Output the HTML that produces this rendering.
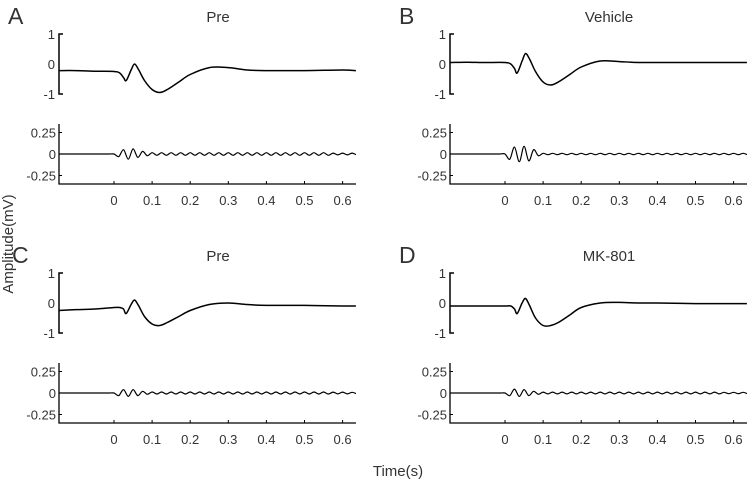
<!DOCTYPE html>
<html><head><meta charset="utf-8"><style>
body{margin:0;background:#fff}
svg{display:block;font-family:"Liberation Sans",Arial,sans-serif}
</style></head><body>
<svg id="fig" width="750" height="487" viewBox="0 0 750 487">
<text x="9" y="244" transform="rotate(-90 9 244)" text-anchor="middle" font-size="15" fill="#333" dominant-baseline="middle">Amplitude(mV)</text>
<text x="398" y="476" text-anchor="middle" font-size="15" fill="#333">Time(s)</text>
</svg>
<script>
const panelLetters=["A","B","C","D"];
const panelTitles=["Pre","Vehicle","Pre","MK-801"];
const topTimes=[-0.145,-0.1,-0.05,0,0.015,0.025,0.032,0.045,0.054,0.065,0.08,0.1,0.12,0.14,0.17,0.2,0.25,0.3,0.35,0.4,0.5,0.6,0.635];
const topA=[-0.22,-0.22,-0.24,-0.25,-0.3,-0.45,-0.55,-0.2,0,-0.2,-0.55,-0.85,-0.95,-0.85,-0.6,-0.35,-0.12,-0.12,-0.2,-0.22,-0.22,-0.2,-0.22];
const topB=[0.05,0.06,0.05,0.05,0,-0.15,-0.3,0.1,0.35,0.15,-0.25,-0.6,-0.7,-0.6,-0.35,-0.1,0.1,0.08,0.05,0.05,0.05,0.05,0.05];
const topC=[-0.25,-0.22,-0.2,-0.15,-0.15,-0.2,-0.35,-0.05,0.1,-0.1,-0.45,-0.7,-0.75,-0.65,-0.45,-0.25,-0.05,0,-0.05,-0.08,-0.08,-0.1,-0.1];
const topD=[-0.1,-0.1,-0.1,-0.1,-0.1,-0.2,-0.35,0,0.15,-0.1,-0.5,-0.75,-0.75,-0.65,-0.4,-0.15,0,0.02,0,0,-0.02,-0.02,-0.02];
const botStart=-0.15, botStep=0.0125;
const botA=[0,0,0,0,0,0,0,0,0,0,0,0,0,-0.03,0.05,-0.06,0.06,-0.04,0.03,-0.02,0.015,-0.015,0.015,-0.015,0.015,-0.015,0.015,-0.015,0.015,-0.015,0.015,-0.015,0.015,-0.015,0.015,-0.015,0.015,-0.015,0.015,-0.015,0.015,-0.015,0.015,-0.015,0.015,-0.015,0.015,-0.015,0.015,-0.015,0.015,-0.015,0.015,-0.015,0.015,-0.015,0.015,-0.015,0.01,-0.01,0.01,-0.01,0.01,-0.01,0];
const botB=[0,0,0,0,0,0,0,0,0,0,0,0,0,-0.06,0.08,-0.09,0.09,-0.08,0.05,-0.02,0.008,-0.008,0.008,-0.008,0.008,-0.008,0.008,-0.008,0.008,-0.008,0.008,-0.008,0.008,-0.008,0.008,-0.008,0.008,-0.008,0.008,-0.008,0.008,-0.008,0.008,-0.008,0.008,-0.008,0.008,-0.008,0.008,-0.008,0.008,-0.008,0.008,-0.008,0.008,-0.008,0.008,-0.008,0.008,-0.008,0.008,-0.008,0.008,-0.008,0];
const botC=[0,0,0,0,0,0,0,0,0,0,0,0,0,-0.03,0.04,-0.04,0.04,-0.03,0.02,-0.015,0.012,-0.012,0.012,-0.012,0.012,-0.012,0.012,-0.012,0.012,-0.012,0.012,-0.012,0.012,-0.012,0.012,-0.012,0.012,-0.012,0.012,-0.012,0.012,-0.012,0.012,-0.012,0.012,-0.012,0.012,-0.012,0.012,-0.012,0.012,-0.012,0.012,-0.012,0.012,-0.012,0.012,-0.012,0.01,-0.01,0.01,-0.01,0.008,-0.008,0];
const botD=[0,0,0,0,0,0,0,0,0,0,0,0,0,-0.03,0.045,-0.04,0.04,-0.03,0.02,-0.015,0.01,-0.01,0.01,-0.01,0.01,-0.01,0.01,-0.01,0.01,-0.01,0.01,-0.01,0.01,-0.01,0.01,-0.01,0.01,-0.01,0.01,-0.01,0.01,-0.01,0.01,-0.01,0.01,-0.01,0.01,-0.01,0.01,-0.01,0.01,-0.01,0.01,-0.01,0.01,-0.01,0.01,-0.01,0.008,-0.008,0.008,-0.008,0.008,-0.008,0];
const tops=[topA,topB,topC,topD];
const bots=[botA,botB,botC,botD];
const xTicks=[0,0.1,0.2,0.3,0.4,0.5,0.6];
const topYTicks=[1,0,-1];
const botYTicks=[0.25,0,-0.25];

const NS="http://www.w3.org/2000/svg";
const svg=document.getElementById("fig");
function mk(tag,attrs,parent){const e=document.createElementNS(NS,tag);for(const k in attrs)e.setAttribute(k,attrs[k]);(parent||svg).appendChild(e);return e;}
function smooth(pts){let d="M"+pts[0][0].toFixed(1)+","+pts[0][1].toFixed(1);
 for(let i=0;i<pts.length-1;i++){const p0=pts[Math.max(0,i-1)],p1=pts[i],p2=pts[i+1],p3=pts[Math.min(pts.length-1,i+2)];
  const c1=[p1[0]+(p2[0]-p0[0])/6,p1[1]+(p2[1]-p0[1])/6],c2=[p2[0]-(p3[0]-p1[0])/6,p2[1]-(p3[1]-p1[1])/6];
  d+=" C"+c1[0].toFixed(1)+","+c1[1].toFixed(1)+" "+c2[0].toFixed(1)+","+c2[1].toFixed(1)+" "+p2[0].toFixed(1)+","+p2[1].toFixed(1);}
 return d;}
const defs=mk("defs",{});
for(let p=0;p<4;p++){
 const ox=(p%2)*391, oy=Math.floor(p/2)*239;
 const g=mk("g",{});
 
 
 const xs=t=>ox+114+t*381;
 const x0=ox+59, x1=ox+356;
 const cp=mk("clipPath",{id:"clip"+p},defs);
 mk("rect",{x:x0,y:oy+110,width:x1-x0,height:90},cp);
 const lt=mk("text",{x:ox+8+(p==2?4:0),y:oy+24,"font-size":23,fill:"#333"},g);lt.textContent=panelLetters[p];
 
 
 const tt=mk("text",{x:ox+218,y:oy+22,"font-size":15,fill:"#333","text-anchor":"middle"},g);tt.textContent=panelTitles[p];
 
 
 const ty=v=>oy+64-v*30;
 const ax=mk("path",{d:`M${x0+4},${ty(1)} H${x0} V${ty(-1)} H${x0+4}`,stroke:"#000","stroke-width":1.5,fill:"none"},g);
 
 
 topYTicks.forEach(v=>{const t=mk("text",{x:x0-4,y:ty(v)+5,"font-size":13,fill:"#333","text-anchor":"end"},g);t.textContent=v;
  
  });
 const tp=mk("path",{d:smooth(topTimes.map((t,i)=>[xs(t),ty(tops[p][i])])),stroke:"#000","stroke-width":1.5,fill:"none"},g);
 
 
 const by=v=>oy+154-v*86;
 const bb=oy+184;
 const bax=mk("path",{d:`M${x0},${oy+124} V${bb} H${x1}`,stroke:"#000","stroke-width":1.3,fill:"none"},g);
 
 
 botYTicks.forEach(v=>{mk("line",{x1:x0,x2:x0+3,y1:by(v),y2:by(v),stroke:"#000"},g);
  const t=mk("text",{x:x0-3,y:by(v)+5,"font-size":13,fill:"#333","text-anchor":"end"},g);t.textContent=v;
  
  });
 xTicks.forEach(v=>{mk("line",{x1:xs(v),x2:xs(v),y1:bb,y2:bb-3,stroke:"#000"},g);
  const t=mk("text",{x:xs(v),y:oy+205,"font-size":13,fill:"#333","text-anchor":"middle"},g);t.textContent=v;
  
  });
 const bp=mk("path",{d:smooth(bots[p].map((v,i)=>[xs(botStart+i*botStep),by(v)])),stroke:"#000","stroke-width":1.2,fill:"none","clip-path":"url(#clip"+p+")"},g);
 
 
}
</script>
</body></html>
